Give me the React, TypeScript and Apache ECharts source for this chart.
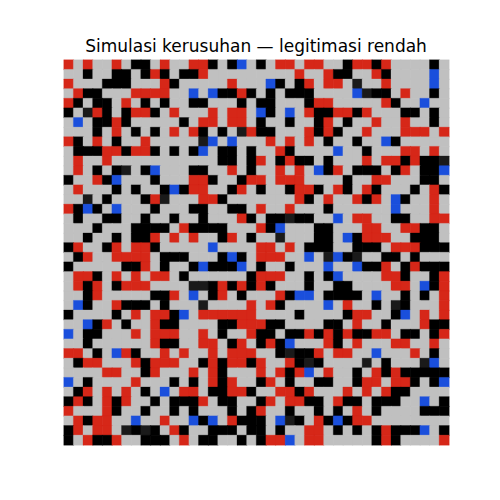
import React, { useEffect, useRef } from "react";
import * as echarts from "echarts";

const title = "Simulasi kerusuhan — legitimasi rendah";

// . quiet, K active, R jailed/rioter, B police, D dark
const rows: string[] = [
  "R.R..R.KK.R..RRK.KB.K.RR.RR..KRRKR....K.",
  "..K..KK.KRK.KKR.........R..RKK..RK....B.",
  "R...KKK...RK.....R...BK.KR.RR.D..R....B.",
  ".RKK...RRRR..B.BKKRK.K.KKK....BDKK.R..K.",
  "RK.KK.R.K.K..KK...K.KK...KRR.....RK..B..",
  "K.DRK.KRRK.R...R.RR.BK.B.RKKRRKR...KK.K.",
  ".B.KKRK.....K.RR.RR.K..K..KR.K..R..R..K.",
  "...K.R.K.K.R.RK.K.DRKK...RKRK..R...RRR.R",
  "RK.R.K..R.....DB.B...R.R.R.K..K..BK.....",
  ".KKKRRKRRK.K.KB.KK.K..RK....B..K...RR.R.",
  ".R..R...........KK.KR.KRKK.K...R.RRKRKKD",
  ".R.K.KD.KB...KK..R.K..R.R.BKR.KKK.KR.KKB",
  "K..RKB...K...RRK..KRR.RRR....K..RR...KK.",
  ".R...K.K..KBKRR..KR.K..KRRK.RK.RK...K.RK",
  "..D.K...KRD...RRK.......RK.R..RKR.BK..R.",
  "RKBK.B...K...KK..KK.R..R...K......B...R.",
  ".K..KK..K..K..K...RK.KKDKK..B.RR..KK..RR",
  "...K...KKKK.RKKKK...RKB...KK...RR..RRKK.",
  "..K..K.KKR.R.R..KR.K..D...KK.BKRRR..KKK.",
  "KR..KR.RRK.....B....RR.R.KKK..KKK.RRRKKK",
  ".KR..RRRR.KKK...KBK.RRR..B.DBKD..KK.K...",
  "K.....KKR.K..KBKKKB.K..K...B..BKKR.KRKKK",
  ".RRK.R.R.RR.K......KRRR..K.KB....RRK..KR",
  ".RKR.KRRR....DDKRKRKRK...K..KK....RR.BKR",
  "..KR.....KKR.B.KR.K...RKBB.KKKK.B..K.K.R",
  ".BK..RKKK.K...D....R.RK....B.R..K.DK...R",
  "K....K.R.RRKB.RRRRRR....K....KRR..KB.R.R",
  "..BKR.K..RKK....KKRRRKK....KK.R..K...RKK",
  "B.KK...R.RRR..R.K..RKK.KKRKRKRKKRR.KK.KR",
  "..K......RKK..RR.KR.KRKB...RK.R...RR..R.",
  "RR.K.BRK..R.R..R.RRR..KDKKR.RR..B...R.K.",
  ".KRR...RKRRR..KRKRRKR..RKDK....D.K...DB.",
  "....RR..KR...R.RK...R.RKRB.R..K.RKRKKKKK",
  "B.K....R...K.K.RKR..KR.K..KK..KRR.RRK.KB",
  ".KR.R.R.K.B.RR.KKRRK..RRKR...R.R.RKK....",
  "KRK.RKR..K.KKKR.KK..KR.RRKK.RKK.KKK..B.K",
  "R...RK..K..K.K...K.KR..K..K.K.R.K....KKK",
  ".RKRR..B..R..BKB.RKKK.BDK.RKBKRR........",
  "KR.RR.DKDK.RK..KKK.KK.K..RR.K.K.KRKKKB.K",
  "K.RKKR..KKK.R.KK..K.KRRB.RR.....KRK....R",
];

const palette: Record<string, string> = {
  ".": "#c0c0c0",
  K: "#000000",
  R: "#d62718",
  B: "#1a4fdc",
  D: "#1a1a1a",
};
const codes = Object.keys(palette);

export default function App() {
  const ref = useRef<HTMLDivElement>(null);
  useEffect(() => {
    const chart = echarts.init(ref.current!, undefined, { renderer: "svg" });
    const nCols = 40;
    const xs = Array.from({ length: nCols }, (_, i) => String(i));
    const ys = rows.map((_, i) => String(i));
    const data: any[] = [];
    rows.forEach((row, r) => {
      for (let c = 0; c < nCols; c++) {
        const ch = row[c] ?? ".";
        data.push({
          value: [c, r, codes.indexOf(ch)],
          itemStyle: { borderColor: palette[ch], borderWidth: 0.3 },
        });
      }
    });
    chart.setOption({
      animation: false,
      backgroundColor: "#ffffff",
      graphic: [
        {
          type: "text",
          x: 256,
          y: 46,
          style: {
            text: title,
            textAlign: "center",
            textVerticalAlign: "middle",
            fontFamily: "DejaVu Sans",
            fontSize: 17,
            fill: "#000000",
          },
        },
      ],
      grid: { left: 64, top: 60, width: 385, height: 385, containLabel: false },
      xAxis: { type: "category", data: xs, show: false },
      yAxis: { type: "category", data: ys, inverse: true, show: false },
      visualMap: {
        show: false,
        type: "piecewise",
        dimension: 2,
        seriesIndex: 0,
        pieces: codes.map((code, i) => ({ value: i, color: palette[code] })),
      },
      series: [
        {
          type: "heatmap",
          data,
          emphasis: { disabled: true },
          progressive: 0,
        },
      ],
    });
    return () => chart.dispose();
  }, []);
  return (
    <div
      ref={ref}
      style={{ position: "absolute", left: 0, top: 0, width: 500, height: 500 }}
    />
  );
}
